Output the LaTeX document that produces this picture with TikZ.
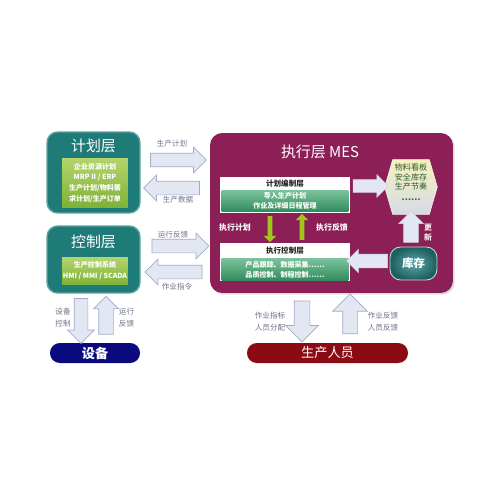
\documentclass[tikz,border=0pt]{standalone}
\usepackage{fontspec}
\setmainfont{Noto Sans CJK SC}
\usetikzlibrary{shapes.arrows,shapes.geometric,calc,shadows}
\definecolor{tealbox}{HTML}{1F7B78}
\definecolor{tealedge}{HTML}{5FA5A2}
\definecolor{limeTop}{HTML}{B4D46E}
\definecolor{limeBot}{HTML}{7DB236}
\definecolor{mesfill}{HTML}{8C1F55}
\definecolor{mgTop}{HTML}{7CC29C}
\definecolor{mgBot}{HTML}{2F8C5C}
\definecolor{arrfill}{HTML}{E3E7F3}
\definecolor{arredge}{HTML}{A3ABC6}
\definecolor{lbl}{HTML}{6E7288}
\definecolor{navybox}{HTML}{0A0A7E}
\definecolor{darkredbox}{HTML}{8A0B14}
\definecolor{greenarr}{HTML}{A2C51C}
\definecolor{hexTop}{HTML}{F6F1BE}
\definecolor{hexBot}{HTML}{D6DAE6}
\definecolor{hextext}{HTML}{2F5A2A}
\definecolor{invIn}{HTML}{5FA8A8}
\definecolor{invOut}{HTML}{1E5F60}
\begin{document}
\begin{tikzpicture}[x=0.02cm,y=-0.02cm,
  outerbox/.style={draw=tealedge, line width=0.8pt, fill=tealbox, rounded corners=6pt, minimum width=1.86cm, inner sep=0pt},
  limebox/.style={top color=limeTop, bottom color=limeBot, draw=none, minimum width=1.32cm, inner sep=0pt, align=center, text=white, font=\fontsize{4}{6.2}\selectfont\bfseries},
  titletext/.style={text=white, font=\fontsize{8.5}{10}\selectfont},
  lbltext/.style={text=lbl, font=\fontsize{4.3}{6.5}\selectfont, align=center, inner sep=0pt},
  blk/.style={single arrow, draw=arredge, fill=arrfill, line width=0.4pt, inner xsep=0pt},
  vblk/.style={single arrow, draw=arredge, fill=arrfill, line width=0.4pt, inner ysep=0pt},
  blkin/.style={single arrow, draw=arrfill!70!arredge, fill=arrfill, line width=0.3pt, inner xsep=0pt},
  vblkin/.style={single arrow, draw=arrfill!70!arredge, fill=arrfill, line width=0.3pt, inner ysep=0pt},
  garr/.style={single arrow, draw=none, fill=greenarr, inner ysep=0pt, minimum height=0.52cm, inner xsep=0.04cm, single arrow head extend=0.08cm},
  whitebox/.style={fill=white, draw=none, minimum width=2.6cm, inner sep=0pt},
  greenbox/.style={top color=mgTop, bottom color=mgBot, draw=none, minimum width=2.54cm, inner sep=0pt, align=center, text=white, font=\fontsize{4}{5.7}\selectfont\bfseries},
  boxlabel/.style={text=black!85, font=\fontsize{4.3}{5}\selectfont\bfseries, inner sep=0pt},
  mestext/.style={text=white, font=\fontsize{4.5}{5.7}\selectfont\bfseries, align=center, inner sep=0pt}
]
\useasboundingbox[fill=white] (0,0) rectangle (500,500);

% ---- left: planning layer
\node[outerbox, minimum height=1.62cm] (plan) at (93.5,172.5) {};
\node[titletext] (plant) at (93.5,146) {计划层};
\node[limebox, minimum height=1.0cm] (planin) at (95,183) {企业资源计划\\MRP II / ERP\\生产计划/物料需\\求计划/生产订单};

% ---- left: control layer
\node[outerbox, minimum height=1.34cm] (ctrl) at (93.5,259.5) {};
\node[titletext] (ctrlt) at (93.5,242) {控制层};
\node[limebox, minimum height=0.56cm] (ctrlin) at (95,271) {生产控制系统\\HMI / MMI / SCADA};

% ---- MES
\node[fill=mesfill, rounded corners=7pt, minimum width=4.86cm, minimum height=3.2cm, inner sep=0pt,
  drop shadow={opacity=0.25, shadow xshift=1pt, shadow yshift=-1pt}] (mes) at (331.5,213) {};
\node[titletext] (mest) at (320,152) {执行层 MES};

\node[whitebox, minimum height=0.72cm] (pw) at (285,195) {};
\node[boxlabel] (pwt) at (285,183.5) {计划编制层};
\node[greenbox, minimum height=0.43cm] (pg) at (285,201) {导入生产计划\\作业及详细日程管理};

\node[whitebox, minimum height=0.76cm] (cw) at (285,262) {};
\node[boxlabel] (cwt) at (285,250.5) {执行控制层};
\node[greenbox, minimum height=0.44cm] (cg) at (285,269.5) {产品跟踪、数据采集……\\品质控制、制程控制……};

% hexagon
\node[minimum width=1.04cm, minimum height=1.08cm, inner sep=0pt] (hex) at (411,187) {};
\path[top color=hexTop, bottom color=hexBot, draw=white!70!hexBot, line width=0.3pt]
  (hex.west) -- ($(hex.north west)+(8,0)$) -- ($(hex.north east)+(-8,0)$) -- (hex.east)
  -- ($(hex.south east)+(-8,0)$) -- ($(hex.south west)+(8,0)$) -- cycle;
\node[text=hextext, align=center, font=\fontsize{4.6}{5.5}\selectfont, inner sep=0pt] (hext) at (411,177) {物料看板\\安全库存\\生产节奏};
\node[text=hextext, font=\fontsize{4.8}{5.2}\selectfont\bfseries, inner sep=0pt] (hexd) at (411,199.5) {……};

% inventory
\node[draw=white!60!invIn, line width=0.5pt, rounded corners=6pt, inner color=invIn, outer color=invOut,
  minimum width=0.94cm, minimum height=0.66cm, inner sep=0pt, text=white, font=\fontsize{6.5}{7}\selectfont\bfseries] (inv) at (413.5,263.5) {库存};

% arrows inside MES
\node[blkin, minimum height=0.7cm, inner ysep=0.12cm, single arrow head extend=0.1cm] (ahex) at (367.5,186) {};
\node[vblkin, minimum height=0.62cm, inner xsep=0.14cm, single arrow head extend=0.1cm, shape border rotate=90] (aupd) at (411,230.5) {};
\node[blkin, minimum height=0.82cm, inner ysep=0.13cm, single arrow head extend=0.1cm, shape border rotate=180] (ainv) at (370.5,261) {};
\node[garr, shape border rotate=270] (gdown) at (270,228) {};
\node[garr, shape border rotate=90] (gup) at (302,228) {};
\node[mestext] (lexec) at (235,228) {执行计划};
\node[mestext] (lfb) at (332,228) {执行反馈};
\node[mestext, text=white!90!mesfill] (lupd) at (428,232.5) {更\\新};

% left <-> MES arrows
\node[blk, minimum height=1.12cm, inner ysep=0.13cm, single arrow head extend=0.12cm] (aplan) at (175,160) {};
\node[blk, minimum height=1.12cm, inner ysep=0.13cm, single arrow head extend=0.12cm, shape border rotate=180] (adata) at (175,188) {};
\node[blk, minimum height=1.14cm, inner ysep=0.13cm, single arrow head extend=0.12cm] (afb) at (177,246) {};
\node[blk, minimum height=1.14cm, inner ysep=0.13cm, single arrow head extend=0.12cm, shape border rotate=180] (acmd) at (177,272) {};
\node[lbltext] (lplan) at (172,144) {生产计划};
\node[lbltext] (ldata) at (178,199.5) {生产数据};
\node[lbltext] (lfb2) at (173,235) {运行反馈};
\node[lbltext] (lcmd) at (177,287) {作业指令};

% bottom boxes
\node[fill=navybox, rounded corners=5.6pt, minimum width=1.8cm, minimum height=0.4cm, inner sep=0pt,
  text=white, font=\fontsize{7.5}{8}\selectfont\bfseries] (dev) at (95,353) {设备};
\node[fill=darkredbox, rounded corners=5.6pt, minimum width=3.22cm, minimum height=0.4cm, inner sep=0pt,
  text=white, font=\fontsize{7.5}{8}\selectfont] (hr) at (327.5,353) {生产人员};

% vertical arrows
\node[vblk, minimum height=0.9cm, inner xsep=0.13cm, single arrow head extend=0.13cm, shape border rotate=270] (add) at (81,317.5) {};
\node[vblk, minimum height=0.76cm, inner xsep=0.14cm, single arrow head extend=0.1cm, shape border rotate=90] (adu) at (106,319) {};
\node[vblk, minimum height=0.82cm, inner xsep=0.15cm, single arrow head extend=0.17cm, shape border rotate=270] (ahd) at (302,317.5) {};
\node[vblk, minimum height=0.8cm, inner xsep=0.14cm, single arrow head extend=0.2cm, shape border rotate=90] (ahu) at (350,317.5) {};
\node[lbltext] (ldev) at (63,317.5) {设备\\控制};
\node[lbltext] (ldevfb) at (126.5,317.5) {运行\\反馈};
\node[lbltext] (lhr) at (270,321.5) {作业指标\\人员分配};
\node[lbltext] (lhrfb) at (383,321.5) {作业反馈\\人员反馈};
\end{tikzpicture}
\end{document}
